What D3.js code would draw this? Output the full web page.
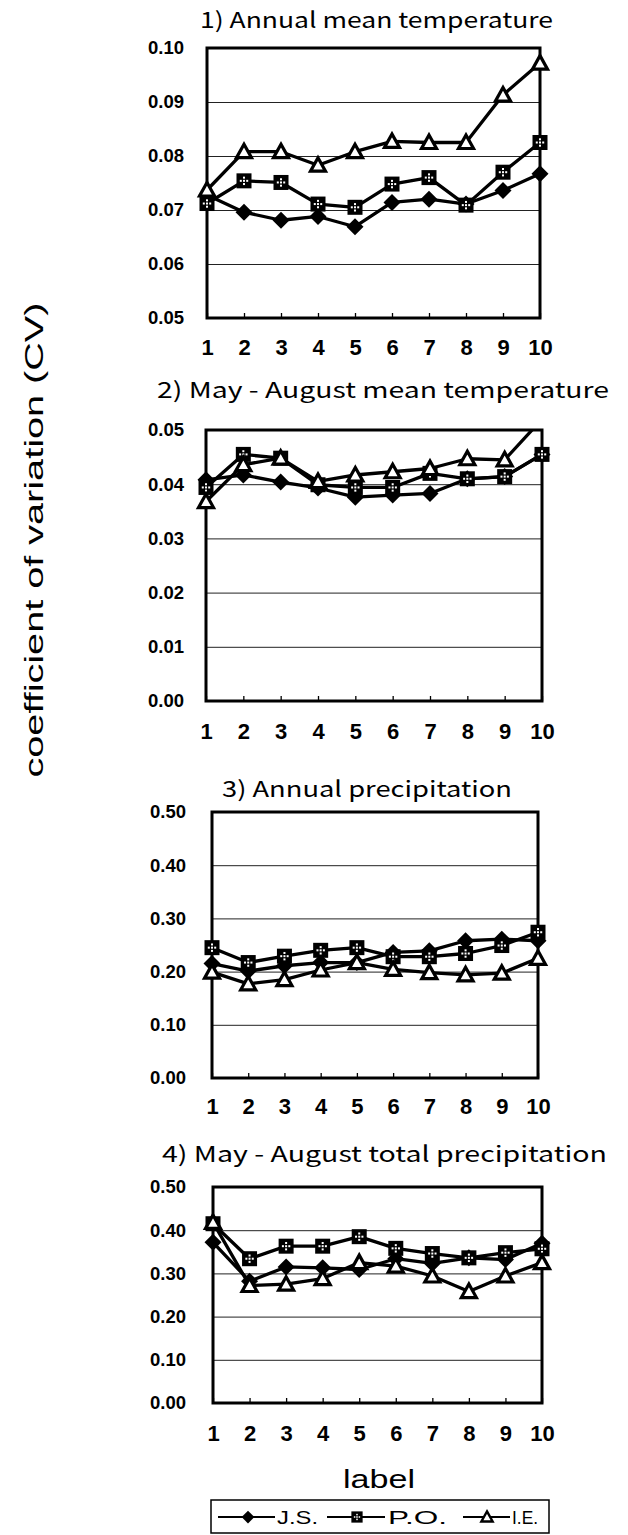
<!DOCTYPE html>
<html><head><meta charset="utf-8">
<script src="https://cdn.jsdelivr.net/npm/d3@7"></script>
<style>html,body{margin:0;padding:0;background:#fff;}svg{display:block;}</style>
</head><body>
<svg id="chart" width="628" height="1535"></svg>
<script>
// ---------- data ----------
const labels = [1, 2, 3, 4, 5, 6, 7, 8, 9, 10];
const seriesNames = ["J.S.", "P.O.", "I.E."];
const titles = [
  "1) Annual mean temperature",
  "2) May - August mean temperature",
  "3) Annual precipitation",
  "4) May - August total precipitation"
];
// panel 1: annual mean temperature
const p1JS = [0.0728, 0.0696, 0.0681, 0.0688, 0.0669, 0.0714, 0.0720, 0.0711, 0.0736, 0.0767];
const p1PO = [0.0712, 0.0754, 0.0751, 0.0711, 0.0705, 0.0748, 0.0760, 0.0709, 0.0770, 0.0825];
const p1IE = [0.0737, 0.0808, 0.0808, 0.0783, 0.0808, 0.0827, 0.0825, 0.0825, 0.0913, 0.0972];
const p1Ticks = [0.05, 0.06, 0.07, 0.08, 0.09, 0.10];
// panel 2: May-August mean temperature
const p2JS = [0.0408, 0.0417, 0.0404, 0.0393, 0.0376, 0.0380, 0.0383, 0.0410, 0.0414, 0.0455];
const p2PO = [0.0394, 0.0455, 0.0448, 0.0399, 0.0394, 0.0394, 0.0420, 0.0410, 0.0414, 0.0455];
const p2IE = [0.0368, 0.0436, 0.0448, 0.0405, 0.0417, 0.0423, 0.0429, 0.0447, 0.0445, 0.0520];
const p2Ticks = [0.00, 0.01, 0.02, 0.03, 0.04, 0.05];
// panel 3: annual precipitation
const p3JS = [0.215, 0.201, 0.211, 0.217, 0.217, 0.236, 0.239, 0.258, 0.261, 0.258];
const p3PO = [0.245, 0.217, 0.229, 0.240, 0.245, 0.228, 0.228, 0.234, 0.249, 0.274];
const p3IE = [0.199, 0.177, 0.185, 0.203, 0.217, 0.204, 0.198, 0.194, 0.197, 0.225];
const p3Ticks = [0.00, 0.10, 0.20, 0.30, 0.40, 0.50];
// panel 4: May-August total precipitation
const p4JS = [0.372, 0.282, 0.315, 0.313, 0.309, 0.334, 0.323, 0.336, 0.332, 0.370];
const p4PO = [0.415, 0.334, 0.363, 0.363, 0.385, 0.358, 0.346, 0.336, 0.348, 0.357];
const p4IE = [0.418, 0.272, 0.275, 0.288, 0.325, 0.317, 0.294, 0.258, 0.294, 0.325];
const p4Ticks = [0.00, 0.10, 0.20, 0.30, 0.40, 0.50];

const yAxisTitle = "coefficient of variation (CV)";
const xAxisTitle = "label";

// ---------- layout ----------
const panels = [
  {title: titles[0], series: [p1JS, p1PO, p1IE], ticks: p1Ticks,
   box: {x0: 207, x1: 540, y0: 48, y1: 318}, titleY: 28, titleX0: 200, titleW: 353, xlabY: 355},
  {title: titles[1], series: [p2JS, p2PO, p2IE], ticks: p2Ticks,
   box: {x0: 206, x1: 542, y0: 430, y1: 701}, titleY: 398, titleX0: 157, titleW: 452, xlabY: 739},
  {title: titles[2], series: [p3JS, p3PO, p3IE], ticks: p3Ticks,
   box: {x0: 212, x1: 538, y0: 812, y1: 1078}, titleY: 797, titleX0: 222, titleW: 290, xlabY: 1114},
  {title: titles[3], series: [p4JS, p4PO, p4IE], ticks: p4Ticks,
   box: {x0: 213, x1: 542, y0: 1187, y1: 1403}, titleY: 1162, titleX0: 162, titleW: 445, xlabY: 1441}
];

const svg = d3.select("#chart");
svg.append("rect").attr("width", 628).attr("height", 1535).attr("fill", "#fff");

const defs = svg.append("defs");

// marker drawers
function drawMarker(g, kind, s) {
  s = s || 1;
  if (kind === 0) {
    g.append("path").attr("d", `M0,${-8.5*s} L${8.5*s},0 L0,${8.5*s} L${-8.5*s},0 Z`).attr("fill", "#000");
  } else if (kind === 1) {
    g.append("rect").attr("x", -7.5*s).attr("y", -7.5*s).attr("width", 15*s).attr("height", 15*s).attr("fill", "#000");
    const dots = [[0,-3.2],[3.2,0],[0,3.2],[-3.2,0],[0,0]];
    dots.forEach(([dx, dy]) => {
      g.append("rect").attr("x", dx*s - 1*s).attr("y", dy*s - 1*s)
        .attr("width", 2*s).attr("height", 2*s).attr("fill", "#fff");
    });
  } else {
    g.append("path").attr("d", `M0,${-7.5*s} L${7.5*s},${6*s} L${-7.5*s},${6*s} Z`)
      .attr("fill", "#fff").attr("stroke", "#000").attr("stroke-width", 3.2*s).attr("stroke-linejoin", "miter");
  }
}

panels.forEach((p, pi) => {
  const b = p.box;
  const x = d3.scalePoint().domain(labels).range([b.x0, b.x1]);
  const y = d3.scaleLinear().domain([d3.min(p.ticks), d3.max(p.ticks)]).range([b.y1, b.y0]);
  const g = svg.append("g");

  // title
  g.append("text").attr("x", p.titleX0).attr("y", p.titleY)
    .attr("font-family", "'Noto Sans CJK JP', 'Noto Sans', sans-serif")
    .attr("font-size", 22).attr("fill", "#000")
    .attr("textLength", p.titleW).attr("lengthAdjust", "spacingAndGlyphs")
    .text(p.title);

  // gridlines + y tick labels
  const yAxis = d3.axisLeft(y).tickValues(p.ticks).tickFormat(d3.format(".2f"))
    .tickSize(-(b.x1 - b.x0)).tickPadding(24);
  const ya = g.append("g").attr("transform", `translate(${b.x0},0)`).call(yAxis);
  ya.select(".domain").remove();
  ya.selectAll(".tick line").attr("stroke", "#222").attr("stroke-width", 1);
  ya.selectAll(".tick text").attr("font-family", "'Liberation Sans', Arial, sans-serif")
    .attr("font-size", 18.5).attr("font-weight", "bold").attr("fill", "#000")
    .attr("x", -(b.x0 - (pi < 2 ? 184 : 186)));

  // x axis ticks + labels
  const xAxis = d3.axisBottom(x).tickValues(labels).tickSize(-5).tickPadding(0).tickFormat(d3.format("d"));
  const xa = g.append("g").attr("transform", `translate(0,${b.y1})`).call(xAxis);
  xa.select(".domain").remove();
  xa.selectAll(".tick line").attr("stroke", "#000").attr("stroke-width", 1.3);
  xa.selectAll(".tick text").attr("font-family", "'Liberation Sans', Arial, sans-serif")
    .attr("font-size", 22).attr("font-weight", "bold").attr("fill", "#000")
    .attr("dy", null).attr("y", p.xlabY - b.y1);

  // frame
  g.append("rect").attr("x", b.x0).attr("y", b.y0).attr("width", b.x1 - b.x0).attr("height", b.y1 - b.y0)
    .attr("fill", "none").attr("stroke", "#000").attr("stroke-width", 3);

  // clip (vertical only)
  const cid = "clip" + pi;
  defs.append("clipPath").attr("id", cid).append("rect")
    .attr("x", b.x0 - 30).attr("y", b.y0 - 1).attr("width", b.x1 - b.x0 + 60).attr("height", b.y1 - b.y0 + 2);

  const plot = g.append("g").attr("clip-path", `url(#${cid})`);
  const line = d3.line().x((d, i) => x(labels[i])).y(d => y(d));
  p.series.forEach((vals, si) => {
    plot.append("path").datum(vals).attr("d", line)
      .attr("fill", "none").attr("stroke", "#000").attr("stroke-width", 3.3).attr("stroke-linejoin", "round");
    vals.forEach((v, i) => {
      const mg = plot.append("g").attr("transform", `translate(${x(labels[i])},${y(v)})`);
      drawMarker(mg, si, 1);
    });
  });
});

// y-axis title
svg.append("text").attr("transform", "translate(43,540) rotate(-90)")
  .attr("text-anchor", "middle").attr("font-family", "'Liberation Sans', Arial, sans-serif")
  .attr("font-size", 25).attr("fill", "#000")
  .attr("textLength", 475).attr("lengthAdjust", "spacingAndGlyphs")
  .text(yAxisTitle);

// x-axis title
svg.append("text").attr("x", 379).attr("y", 1488).attr("text-anchor", "middle")
  .attr("font-family", "'Liberation Sans', Arial, sans-serif").attr("font-size", 26).attr("fill", "#000")
  .attr("textLength", 72).attr("lengthAdjust", "spacingAndGlyphs")
  .text(xAxisTitle);

// legend
const leg = svg.append("g");
leg.append("rect").attr("x", 211).attr("y", 1500).attr("width", 338).attr("height", 33)
  .attr("fill", "#fff").attr("stroke", "#000").attr("stroke-width", 1.5);
const legItems = [
  {x0: 218, x1: 275, mx: 248, tx: 277, tw: 41},
  {x0: 327, x1: 385, mx: 357, tx: 388, tw: 59},
  {x0: 463, x1: 510, mx: 487, tx: 512, tw: 26}
];
seriesNames.forEach((name, i) => {
  const it = legItems[i];
  leg.append("line").attr("x1", it.x0).attr("x2", it.x1).attr("y1", 1517).attr("y2", 1517)
    .attr("stroke", "#000").attr("stroke-width", 2);
  const mg = leg.append("g").attr("transform", `translate(${it.mx},1517)`);
  drawMarker(mg, i, 0.75);
  leg.append("text").attr("x", it.tx).attr("y", 1524)
    .attr("font-family", "'Liberation Sans', Arial, sans-serif").attr("font-size", 18).attr("fill", "#000")
    .attr("textLength", it.tw).attr("lengthAdjust", "spacingAndGlyphs")
    .text(name);
});
</script>
</body></html>
